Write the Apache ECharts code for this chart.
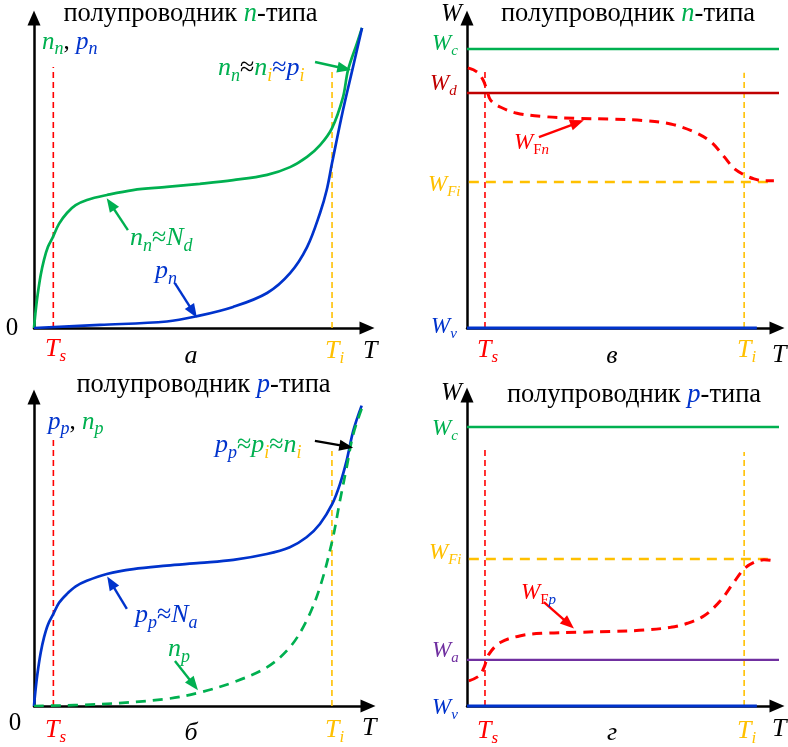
<!DOCTYPE html>
<html><head><meta charset="utf-8">
<script src="https://cdn.jsdelivr.net/npm/echarts@6/dist/echarts.min.js"></script>
<style>html,body{margin:0;padding:0;background:#fff}#c{width:788px;height:747px}</style>
</head><body><div id="c"></div>
<script>
// ---------- data (arbitrary units: T 0..100 along axis, value 0..100 along axis) ----------
// panel а : n-type concentrations
const aT_nn = [0,0.4,1.0,2.0,3.0,4.2,5.7,7.5,9.9,12.5,15.9,21.9,29.7,39.9,49.8,59.8,70.0,76.9,82.0,85.9,89.5,92.8,94.3,97.0,98.5];
const a_nn  = [0,4.5,10.0,17.0,22.0,26.2,29.4,33.6,37.1,39.6,41.3,42.9,44.5,45.5,46.5,47.7,49.4,51.9,55.2,59.0,64.5,74.5,83.2,91.9,96.8];
const aT_pn = [0,19.8,39.9,48.9,59.8,70.0,76.9,82.0,85.9,87.9,89.5,92.8,95.8,98.5];
const a_pn  = [0,1.0,2.1,3.8,6.8,11.3,17.7,26.1,37.1,44.5,53.2,70.3,84.2,96.8];
// panel б : p-type concentrations
const bT_pp = [0,0.4,1.0,2.0,3.0,4.2,5.8,7.5,9.8,12.5,15.8,21.8,29.7,39.7,49.7,59.7,69.7,76.6,81.6,85.6,89.3,91.6,93.6,95.6,98.1];
const b_pp  = [0,4.6,10.2,17.2,22.2,26.4,29.8,33.4,36.2,38.7,40.5,42.7,44.3,45.4,46.3,47.3,49.2,51.4,54.6,58.9,65.4,71.8,79.4,89.1,97.2];
const bT_np = [0,19.8,39.7,49.7,59.7,69.7,76.6,81.6,85.6,89.3,91.6,93.6,95.6,98.6];
const b_np  = [0,0.6,2.3,4.4,7.7,12.5,19.0,27.6,38.4,53.5,66.4,77.2,88.0,97.7];
// panel в : Fermi level, n-type
const cT_WF = [0.3,3.2,5.2,6.4,7.6,10.9,16.1,24.8,35.6,46.4,57.1,65.7,73.2,78.6,82.9,86.1,89.4,92.6,95.8,99.0];
const c_WF  = [83.9,82.6,80.0,76.8,73.5,71.2,69.3,68.2,67.6,67.4,66.9,65.8,63.3,60.1,55.3,51.5,49.4,48.1,47.5,47.5];
const nLevelNames = ['Wc','Wd','WFi','Wv'];
const nLevelValues = [90.0, 75.8, 47.1, 0];
// panel г : Fermi level, p-type
const dT_WF = [0.6,3.9,5.5,7.1,10.9,17.3,24.8,35.6,46.4,57.1,65.7,71.1,76.5,81.8,86.1,89.4,92.6,95.8,99.0];
const d_WF  = [8.1,9.7,12.4,16.7,20.5,22.6,23.4,23.7,24.0,24.4,25.3,26.6,29.0,33.9,39.8,44.1,46.2,47.0,46.7];
const pLevelNames = ['Wc','WFi','Wa','Wv'];
const pLevelValues = [89.7, 47.3, 14.8, 0];
// characteristic temperatures per panel [а, в, б, г]
const Ts = [5.8, 5.8, 5.8, 5.8];
const Ti = [89.5, 89.4, 89.2, 89.4];
const TsTop = [84.2, 83.9, 87.1, 83.6];
const TiTop = [82.6, 82.3, 82.5, 81.7];

// ---------- styling ----------
const G='#00b050', B='#0033cc', R='#ff0000', O='#ffc000', DR='#c00000', P='#7030a0', K='#000000';
const FF = 'Liberation Serif';
const zip = (xs, ys) => xs.map((x,i)=>[x, ys[i]]);

const grids = [
  {left:34, top:18, width:333, height:310},
  {left:467, top:18, width:310, height:310},
  {left:34, top:397, width:334, height:309},
  {left:467, top:395, width:310, height:311}
];
const axisBase = (i) => ({
  gridIndex:i, type:'value', min:0, max:100,
  axisLine:{show:true, onZero:false, lineStyle:{color:'#000', width:2.5}, symbol:['none','triangle'], symbolSize:[13,15]},
  axisTick:{show:false}, axisLabel:{show:false}, splitLine:{show:false}
});

function curve(g, data, color, width, dash, extra) {
  return Object.assign({
    type:'line', xAxisIndex:g, yAxisIndex:g, data:data, smooth:0.35, symbol:'none', showSymbol:false,
    lineStyle:{color:color, width:width, type: dash ? dash : 'solid'}, silent:true, z:3
  }, extra||{});
}
function arrow(g, from, to, color) {
  return {
    type:'line', xAxisIndex:g, yAxisIndex:g, data:[], symbol:'none', silent:true,
    markLine:{silent:true, symbol:['none','triangle'], symbolSize:[11,14], label:{show:false},
      lineStyle:{color:color, width:2.4, type:'solid'}, animation:false,
      data:[[{coord:from},{coord:to}]]}
  };
}
function vline(g, x, top, color) {
  return curve(g, [[x,0],[x,top]], color, 1.6, [6,4], {smooth:false, z:2});
}
function hline(g, x0, x1, y, color, width, dash) {
  return curve(g, [[x0,y],[x1,y]], color, width, dash, {smooth:false, clip:false, z:2});
}

const series = [
  // а
  vline(0, Ts[0], TsTop[0], R), vline(0, Ti[0], TiTop[0], O),
  curve(0, zip(aT_nn, a_nn), G, 2.7),
  curve(0, zip(aT_pn, a_pn), B, 2.7),
  arrow(0, [84.4,85.8], [93.2,83.7], G),
  arrow(0, [28.2,31.6], [23.0,40.0], G),
  arrow(0, [42.3,14.5], [47.8,5.2], B),
  // в
  vline(1, Ts[1], TsTop[1], R), vline(1, Ti[1], TiTop[1], O),
  hline(1, 0, 103, nLevelValues[0], G, 2.5),
  hline(1, 0, 103, nLevelValues[1], DR, 2.5),
  hline(1, 0.6, 98.4, nLevelValues[2], O, 2.5, [10,7]),
  hline(1, 0, 93.5, nLevelValues[3], B, 3.2),
  curve(1, zip(cT_WF, c_WF), R, 3, [10,7]),
  arrow(1, [23.2,61.6], [35.6,66.2], R),
  // б
  vline(2, Ts[2], TsTop[2], R), vline(2, Ti[2], TiTop[2], O),
  curve(2, zip(bT_pp, b_pp), B, 2.7),
  curve(2, zip(bT_np, b_np), G, 2.7, [10,7]),
  arrow(2, [84.1,85.8], [93.5,84.0], K),
  arrow(2, [27.8,31.4], [23.0,40.0], B),
  arrow(2, [42.2,14.6], [47.8,6.9], G),
  // г
  vline(3, Ts[3], TsTop[3], R), vline(3, Ti[3], TiTop[3], O),
  hline(3, 0, 103, pLevelValues[0], G, 2.5),
  hline(3, 0.6, 98.4, pLevelValues[1], O, 2.5, [10,7]),
  hline(3, 0, 103, pLevelValues[2], P, 2.2),
  hline(3, 0, 93.5, pLevelValues[3], B, 3.2),
  curve(3, zip(dT_WF, d_WF), R, 3, [10,7]),
  arrow(3, [24.8,33.4], [32.8,26.4], R)
];

// ---------- text labels (rich text, subscripts) ----------
function label(x, y, segs, size, align, subRatio) {
  const rich = {}; let str = '';
  const sr = subRatio || 0.66;
  segs.forEach((s, i) => {
    const [t, col, it, sub] = s;
    const key = 's' + i;
    if (sub) {
      const fs = Math.round(size * sr);
      rich[key] = {fill:col, fontFamily:FF, fontStyle: it ? 'italic' : 'normal', fontSize:fs, lineHeight:fs,
                   padding:[Math.round(size*0.6),0,0,0]};
    } else {
      rich[key] = {fill:col, fontFamily:FF, fontStyle: it ? 'italic' : 'normal', fontSize:size, lineHeight:size};
    }
    str += '{' + key + '|' + t + '}';
  });
  return {type:'text', x:x, y:y, z:100, silent:true,
    style:{text:str, rich:rich, align: align || 'left', verticalAlign:'middle', fill:K, fontFamily:FF, fontSize:size}};
}
const it = (t,c)=>[t,c,1,0], up=(t,c)=>[t,c,0,0], sb=(t,c)=>[t,c,1,1], sbu=(t,c)=>[t,c,0,1];

const graphics = [
  // а
  label(190.5, 14, [up('полупроводник ',K), it('n',G), up('-типа',K)], 26.5, 'center'),
  label(42, 42, [it('n',G), sb('n',G), up(', ',K), it('p',B), sb('n',B)], 25, 'left', 0.7),
  label(218, 68, [it('n',G), sb('n',G), up('≈',K), it('n',G), sb('i',O), up('≈',B), it('p',B), sb('i',O)], 26, 'left', 0.7),
  label(130, 238, [it('n',G), sb('n',G), up('≈',G), it('N',G), sb('d',G)], 26, 'left', 0.7),
  label(155, 271, [it('p',B), sb('n',B)], 26, 'left', 0.7),
  label(12, 328, [up('0',K)], 25, 'center'),
  label(45, 349, [it('T',R), sb('s',R)], 26),
  label(191, 356, [it('а',K)], 26, 'center'),
  label(325, 351, [it('T',O), sb('i',O)], 26),
  label(363, 351, [it('T',K)], 26),
  // в
  label(441, 14.5, [it('W',K)], 25),
  label(628, 14, [up('полупроводник ',K), it('n',G), up('-типа',K)], 26.5, 'center'),
  label(432, 44, [it('W',G), sb('c',G)], 23),
  label(430, 84, [it('W',DR), sb('d',DR)], 23),
  label(428, 185, [it('W',O), sb('Fi',O)], 23),
  label(431, 327, [it('W',B), sb('v',B)], 23),
  label(514, 143, [it('W',R), sbu('F',R), sb('n',R)], 23),
  label(477, 350, [it('T',R), sb('s',R)], 26),
  label(612, 356, [it('в',K)], 26, 'center'),
  label(737, 350, [it('T',O), sb('i',O)], 26),
  label(772, 355, [it('T',K)], 26),
  // б
  label(203.5, 385, [up('полупроводник ',K), it('p',B), up('-типа',K)], 26.5, 'center'),
  label(48, 422, [it('p',B), sb('p',B), up(', ',K), it('n',G), sb('p',G)], 25, 'left', 0.7),
  label(215, 445, [it('p',B), sb('p',B), up('≈',G), it('p',G), sb('i',O), up('≈',G), it('n',G), sb('i',O)], 26, 'left', 0.7),
  label(135, 615, [it('p',B), sb('p',B), up('≈',B), it('N',B), sb('a',B)], 26, 'left', 0.7),
  label(168, 649, [it('n',G), sb('p',G)], 26, 'left', 0.7),
  label(15, 723, [up('0',K)], 25, 'center'),
  label(45, 730, [it('T',R), sb('s',R)], 26),
  label(191, 733, [it('б',K)], 26, 'center'),
  label(325, 730, [it('T',O), sb('i',O)], 26),
  label(362, 728, [it('T',K)], 26),
  // г
  label(441, 393, [it('W',K)], 25),
  label(634, 395, [up('полупроводник ',K), it('p',B), up('-типа',K)], 26.5, 'center'),
  label(432, 429, [it('W',G), sb('c',G)], 23),
  label(429, 553, [it('W',O), sb('Fi',O)], 23),
  label(521, 593, [it('W',R), sbu('F',R), sb('p',B)], 23),
  label(432, 651, [it('W',P), sb('a',P)], 23),
  label(432, 708, [it('W',B), sb('v',B)], 23),
  label(477, 731, [it('T',R), sb('s',R)], 26),
  label(612, 733, [it('г',K)], 26, 'center'),
  label(737, 731, [it('T',O), sb('i',O)], 26),
  label(772, 729, [it('T',K)], 26)
];

const chart = echarts.init(document.getElementById('c'), null, {renderer:'canvas'});
chart.setOption({
  animation:false,
  backgroundColor:'#fff',
  grid: grids,
  xAxis: grids.map((g,i)=>axisBase(i)),
  yAxis: grids.map((g,i)=>axisBase(i)),
  series: series,
  graphic: graphics
});
</script></body></html>
